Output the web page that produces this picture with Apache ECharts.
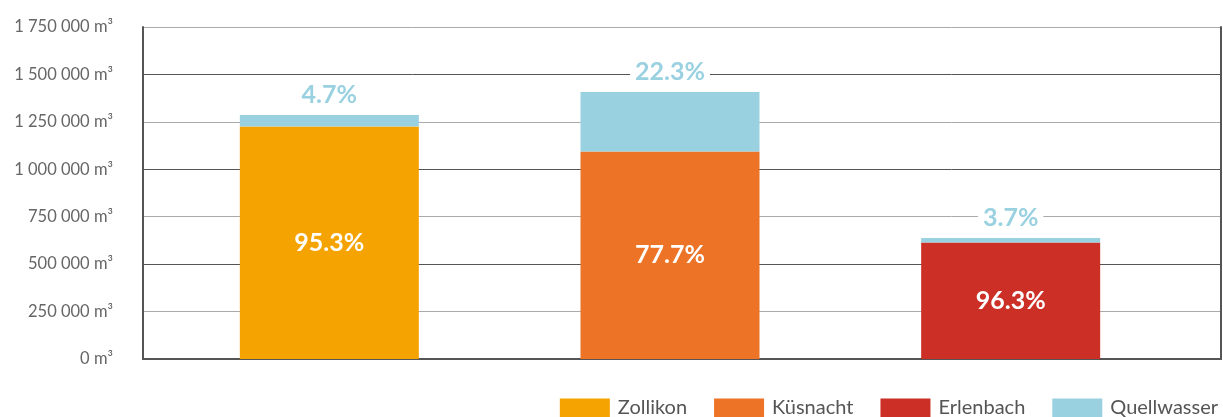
<!DOCTYPE html>
<html>
<head>
<meta charset="utf-8">
<script src="https://cdn.jsdelivr.net/npm/echarts@6/dist/echarts.min.js"></script>
<style>
  html, body { margin: 0; padding: 0; background: #fff; }
  #chart { width: 1223px; height: 417px; }
</style>
</head>
<body>
<div id="chart"></div>
<script>
const places = ['Zollikon', 'Küsnacht', 'Erlenbach']
// lake water pumped per place (m³) and spring water on top
const lakeWater = [1225600, 1093200, 614400]
const springWater = [60400, 313800, 23600]
const lakeShare = [95.3, 77.7, 96.3]
const springShare = [4.7, 22.3, 3.7]
const yTicks = [0, 250000, 500000, 750000, 1000000, 1250000, 1500000, 1750000]

const placeColors = ['#F5A300', '#ED7326', '#CB2F26']
const springColor = '#9AD1E1'
const fontFamily = 'Lato, "Open Sans", sans-serif'

const formatM3 = v => String(v).replace(/\B(?=(\d{3})+(?!\d))/g, ' ') + ' m³'

const chart = echarts.init(document.getElementById('chart'))

const placeSeries = places.map((name, i) => ({
  name,
  type: 'bar',
  xAxisIndex: 1,
  yAxisIndex: 1,
  stack: 'total',
  barWidth: 179,
  itemStyle: { color: placeColors[i] },
  data: places.map((_, j) => (j === i ? lakeWater[i] : '-')),
  label: {
    show: true,
    position: 'inside',
    formatter: () => lakeShare[i].toFixed(1) + '%',
    color: '#fff',
    fontSize: 25,
    fontWeight: 'bold',
    fontFamily
  }
}))

chart.setOption({
  animation: false,
  textStyle: { fontFamily },
  grid: [
    { left: 143, right: 2, top: 27, bottom: 58 },
    { left: 159, right: 42, top: 27, bottom: 58 }
  ],
  legend: {
    right: 0,
    top: 393,
    icon: 'rect',
    itemWidth: 50,
    itemHeight: 19,
    itemGap: 27,
    textStyle: { fontSize: 20, color: '#555', padding: [0, 0, 0, 3] },
    data: [...places, 'Quellwasser']
  },
  xAxis: [
    {
      gridIndex: 0,
      type: 'category',
      data: [''],
      axisLine: { lineStyle: { color: '#555', width: 2 } },
      axisTick: { show: false },
      axisLabel: { show: false }
    },
    {
      gridIndex: 1,
      type: 'category',
      data: places,
      show: false
    }
  ],
  yAxis: [
    {
      gridIndex: 0,
      type: 'value',
      min: yTicks[0],
      max: yTicks[yTicks.length - 1],
      interval: yTicks[1] - yTicks[0],
      axisLine: { show: true, lineStyle: { color: '#555', width: 2 } },
      axisTick: { show: false },
      axisLabel: {
        margin: 30,
        fontSize: 16.5,
        color: '#666',
        formatter: formatM3
      },
      splitLine: { lineStyle: { color: ['#555', '#aaa'], width: 1 } }
    },
    {
      gridIndex: 1,
      type: 'value',
      min: yTicks[0],
      max: yTicks[yTicks.length - 1],
      show: false
    },
    {
      gridIndex: 0,
      type: 'value',
      position: 'right',
      min: yTicks[0],
      max: yTicks[yTicks.length - 1],
      axisLine: { show: true, lineStyle: { color: '#555', width: 2 } },
      axisTick: { show: false },
      axisLabel: { show: false },
      splitLine: { show: false }
    }
  ],
  series: [
    ...placeSeries,
    {
      name: 'Quellwasser',
      type: 'bar',
      xAxisIndex: 1,
      yAxisIndex: 1,
      stack: 'total',
      barWidth: 179,
      itemStyle: { color: springColor },
      data: springWater,
      label: {
        show: true,
        position: 'top',
        distance: 8,
        formatter: p => springShare[p.dataIndex].toFixed(1) + '%',
        color: springColor,
        backgroundColor: '#fff',
        padding: [0, 5],
        fontSize: 25,
        fontWeight: 'bold',
        fontFamily
      }
    }
  ]
})
</script>
</body>
</html>
